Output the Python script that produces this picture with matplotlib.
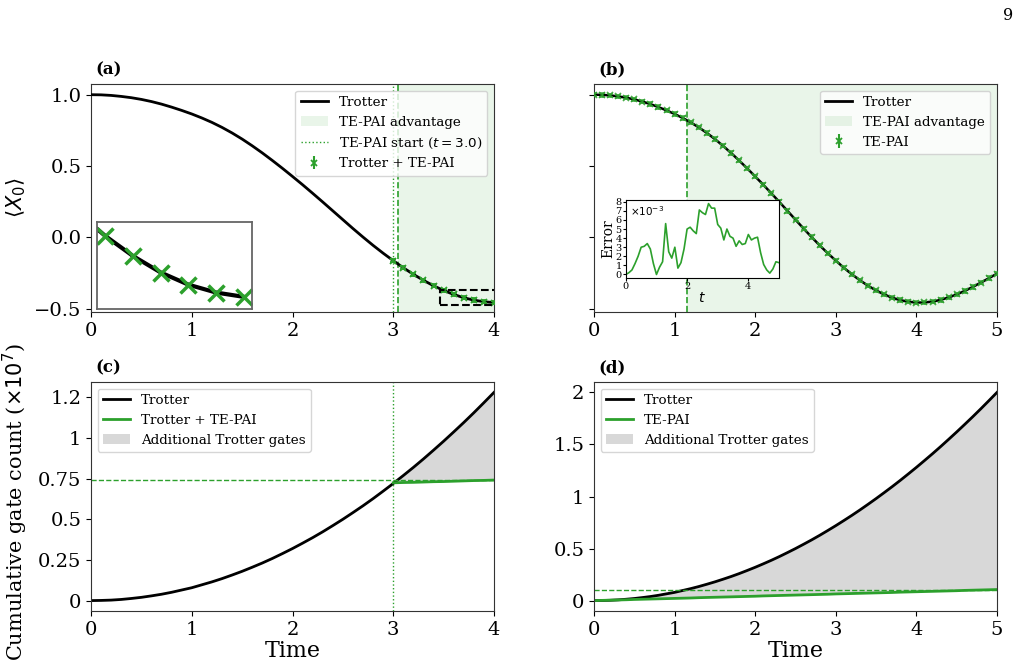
import numpy as np
import matplotlib
matplotlib.use("Agg")
import matplotlib.pyplot as plt
from matplotlib.patches import Rectangle, Patch
from matplotlib.lines import Line2D
from matplotlib.ticker import FormatStrFormatter

plt.rcParams["font.family"] = "DejaVu Serif"
plt.rcParams["mathtext.fontset"] = "dejavusans"

GREEN = "tab:green"

# =========================
# Data
# =========================
t_grid = np.linspace(0, 5, 51)

trotter_x0 = [
    1.000, 0.999, 0.995, 0.988, 0.979, 0.967, 0.952, 0.934, 0.913, 0.890,
    0.865, 0.837, 0.806, 0.771, 0.732, 0.689, 0.642, 0.592, 0.539, 0.484,
    0.427, 0.369, 0.309, 0.248, 0.186, 0.124, 0.062, 0.002, -0.056, -0.111,
    -0.163, -0.213, -0.259, -0.301, -0.339, -0.372, -0.400, -0.423, -0.440, -0.451,
    -0.457, -0.456, -0.450, -0.438, -0.421, -0.400, -0.375, -0.347, -0.317, -0.286,
    -0.254,
]

# TE-PAI error (x 1e-3)
tepai_error = [
    0.0, 0.2, 0.5, 1.2, 2.0, 3.0, 3.1, 3.4, 2.8, 1.2,
    0.0, 0.8, 1.4, 5.6, 2.5, 1.8, 3.0, 0.7, 1.3, 2.8,
    5.0, 5.2, 4.8, 4.5, 7.1, 6.8, 6.6, 7.8, 7.3, 7.3,
    5.5, 5.1, 3.8, 5.0, 4.2, 4.0, 3.1, 3.7, 3.3, 3.4,
    4.4, 3.8, 4.0, 4.1, 2.4, 1.1, 0.5, 0.15, 0.6, 1.4,
    1.3,
]

tepai_start_a = 3.0
advantage_a = 3.05
advantage_b = 1.16

# cumulative gate counts (x 1e7), same time grid
trotter_gates = [
    0.000, 0.001, 0.003, 0.007, 0.013, 0.020, 0.029, 0.039, 0.051, 0.065,
    0.079, 0.097, 0.115, 0.135, 0.157, 0.180, 0.205, 0.231, 0.259, 0.289,
    0.320, 0.353, 0.387, 0.423, 0.461, 0.500, 0.541, 0.583, 0.627, 0.673,
    0.720, 0.769, 0.819, 0.871, 0.925, 0.980, 1.037, 1.095, 1.155, 1.217,
    1.280, 1.345, 1.411, 1.479, 1.549, 1.620, 1.693, 1.767, 1.843, 1.921,
    2.000,
]
tepai_gates_c = [0.724, 0.726, 0.727, 0.729, 0.731, 0.732, 0.734, 0.736, 0.738,
                 0.739, 0.741]
tepai_gates_d = [
    0.000, 0.002, 0.004, 0.006, 0.008, 0.011, 0.013, 0.015, 0.017, 0.019,
    0.021, 0.023, 0.025, 0.028, 0.030, 0.032, 0.034, 0.036, 0.038, 0.040,
    0.042, 0.045, 0.047, 0.049, 0.051, 0.053, 0.055, 0.057, 0.059, 0.061,
    0.064, 0.066, 0.068, 0.070, 0.072, 0.074, 0.076, 0.078, 0.081, 0.083,
    0.085, 0.087, 0.089, 0.091, 0.093, 0.095, 0.098, 0.100, 0.102, 0.104,
    0.106,
]

trotter_x0 = np.array(trotter_x0)
trotter_gates = np.array(trotter_gates)
tepai_gates_d = np.array(tepai_gates_d)

fig = plt.figure(figsize=(10.19, 6.67), dpi=100)
W, H = 1019, 667


def place(left, top, right, bottom):
    return [left / W, 1 - bottom / H, (right - left) / W, (bottom - top) / H]


ax_a = fig.add_axes(place(91, 84, 494, 312))
ax_b = fig.add_axes(place(594, 84, 997, 312), sharey=ax_a)
ax_c = fig.add_axes(place(91, 382, 494, 611))
ax_d = fig.add_axes(place(594, 382, 997, 611))

for ax in (ax_a, ax_b, ax_c, ax_d):
    ax.tick_params(labelsize=14)
    for s in ax.spines.values():
        s.set_color("0.2")

mask_a = t_grid <= 4.0001
sel_a = (t_grid >= 2.9999) & mask_a

# =========================
# (a)
# =========================
ax_a.plot(t_grid[mask_a], trotter_x0[mask_a], color="black", lw=2, zorder=3)
ax_a.axvspan(advantage_a, 4, color=GREEN, alpha=0.1, lw=0)
ax_a.axvline(tepai_start_a, color=GREEN, ls=":", lw=1)
ax_a.axvline(advantage_a, color=GREEN, ls="--", lw=1.2)
ax_a.errorbar(t_grid[sel_a], trotter_x0[sel_a], yerr=0.012, fmt="x", color=GREEN,
              ms=5, mew=1.3, capsize=2, elinewidth=1, zorder=4)
ax_a.add_patch(Rectangle((3.465, -0.472), 0.6, 0.105, fill=False, ec="black",
                         ls="--", lw=1.5, zorder=5))
ax_a.set_xlim(0, 4)
ax_a.set_ylim(-0.523, 1.075)
ax_a.set_xticks([0, 1, 2, 3, 4])
ax_a.set_yticks([-0.5, 0.0, 0.5, 1.0])
ax_a.set_ylabel(r"$\langle X_0\rangle$", fontsize=15)

h_a = [
    Line2D([], [], color="black", lw=2),
    Patch(color=GREEN, alpha=0.1, lw=0),
    Line2D([], [], color=GREEN, ls=":", lw=1),
    ax_a.errorbar([], [], yerr=[], fmt="x", color=GREEN, ms=5, mew=1.3, capsize=2),
]
ax_a.legend(h_a, ["Trotter", "TE-PAI advantage", r"TE-PAI start ($t = 3.0$)",
                  "Trotter + TE-PAI"], loc="upper right", fontsize=9.7)

ins_a = ax_a.inset_axes([0.015, 0.013, 0.385, 0.38])
ins_a.plot(t_grid[mask_a], trotter_x0[mask_a], color="black", lw=3)
ins_a.plot(t_grid[sel_a], trotter_x0[sel_a], "x", color=GREEN, ms=11, mew=2.5)
ins_a.set_xlim(3.47, 4.03)
ins_a.set_ylim(-0.474, -0.353)
ins_a.set_xticks([])
ins_a.set_yticks([])
for s in ins_a.spines.values():
    s.set_color("0.4")
    s.set_linewidth(1.3)

# =========================
# (b)
# =========================
ax_b.axvspan(advantage_b, 5, color=GREEN, alpha=0.1, lw=0)
ax_b.axvline(advantage_b, color=GREEN, ls="--", lw=1.2)
ax_b.plot(t_grid, trotter_x0, color="black", lw=1.8, zorder=3)
ax_b.errorbar(t_grid, trotter_x0, yerr=0.012, fmt="x", color=GREEN,
              ms=5, mew=1.2, capsize=2, elinewidth=1, alpha=0.85, zorder=4)
ax_b.set_xlim(0, 5)
ax_b.set_xticks([0, 1, 2, 3, 4, 5])
ax_b.tick_params(labelleft=False)

h_b = [
    Line2D([], [], color="black", lw=2),
    Patch(color=GREEN, alpha=0.1, lw=0),
    ax_b.errorbar([], [], yerr=[], fmt="x", color=GREEN, ms=5, mew=1.3, capsize=2),
]
ax_b.legend(h_b, ["Trotter", "TE-PAI advantage", "TE-PAI"], loc="upper right",
            fontsize=9.7)

ins_b = ax_b.inset_axes([0.079, 0.149, 0.38, 0.342])
ins_b.plot(t_grid, tepai_error, color=GREEN, lw=1.2)
ins_b.set_xlim(0, 5)
ins_b.set_yticks(range(0, 9))
ins_b.set_xticks([0, 2, 4])
ins_b.tick_params(labelsize=7, length=2, pad=1)
ins_b.set_ylabel("Error", fontsize=10, labelpad=0)
ins_b.set_xlabel("$t$", fontsize=10, labelpad=0)
ins_b.text(0.03, 0.95, r"$\times10^{-3}$", transform=ins_b.transAxes,
           va="top", ha="left", fontsize=7.5)

# =========================
# (c)
# =========================
ax_c.plot(t_grid[mask_a], trotter_gates[mask_a], color="black", lw=2, label="Trotter")
ax_c.plot(t_grid[sel_a], tepai_gates_c, color=GREEN, lw=2, label="Trotter + TE-PAI")
ax_c.fill_between(t_grid[sel_a], trotter_gates[sel_a], tepai_gates_c,
                  color="gray", alpha=0.3, lw=0, label="Additional Trotter gates")
ax_c.axvline(tepai_start_a, color=GREEN, ls=":", lw=1)
ax_c.axhline(tepai_gates_c[-1], color=GREEN, ls="--", lw=1)
ax_c.set_xlim(0, 4)
ax_c.set_xticks([0, 1, 2, 3, 4])
ax_c.set_yticks([0, 0.25, 0.5, 0.75, 1.0, 1.25])
ax_c.yaxis.set_major_formatter(FormatStrFormatter("%.2g"))
ax_c.set_xlabel("Time", fontsize=16, labelpad=1)
ax_c.set_ylabel(r"Cumulative gate count ($\times10^7$)", fontsize=15)
ax_c.yaxis.set_label_coords(-0.152, 0.475)
ax_c.legend(loc="upper left", fontsize=9.7)

# =========================
# (d)
# =========================
ax_d.plot(t_grid, trotter_gates, color="black", lw=2, label="Trotter")
ax_d.plot(t_grid, tepai_gates_d, color=GREEN, lw=2, label="TE-PAI")
ax_d.fill_between(t_grid, trotter_gates, tepai_gates_d,
                  where=trotter_gates >= tepai_gates_d, interpolate=True,
                  color="gray", alpha=0.3, lw=0, label="Additional Trotter gates")
ax_d.axhline(tepai_gates_d[-1], color=GREEN, ls="--", lw=1)
ax_d.set_xlim(0, 5)
ax_d.set_xticks([0, 1, 2, 3, 4, 5])
ax_d.set_yticks([0, 0.5, 1.0, 1.5, 2.0])
ax_d.yaxis.set_major_formatter(FormatStrFormatter("%.2g"))
ax_d.set_xlabel("Time", fontsize=16, labelpad=1)
ax_d.legend(loc="upper left", fontsize=9.7)

# panel labels
for ax, lab in zip((ax_a, ax_b, ax_c, ax_d), ("(a)", "(b)", "(c)", "(d)")):
    ax.text(0.01, 1.025, lab, transform=ax.transAxes, fontsize=12,
            fontweight="bold", ha="left", va="bottom")

fig.text(1008 / W, 1 - 15 / H, "9", fontsize=11.5, ha="center", va="center")

fig.savefig("out.png", dpi=100)
